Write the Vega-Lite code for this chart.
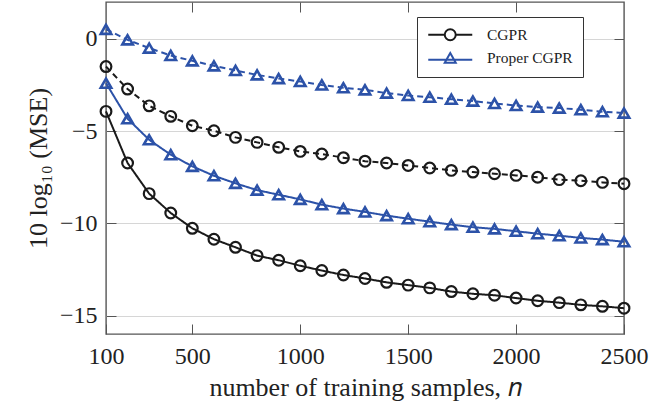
{
  "$schema": "https://vega.github.io/schema/vega-lite/v6.json",
  "width": 518,
  "height": 332,
  "autosize": {"type": "none"},
  "padding": {"left": 106, "top": 2, "right": 25, "bottom": 73},
  "background": "white",
  "config": {
    "view": {"stroke": "#555555", "strokeWidth": 1.4},
    "axis": {
      "labelFont": "Liberation Serif",
      "labelFontSize": 24,
      "labelColor": "#222222",
      "titleFont": "Liberation Serif",
      "titleFontSize": 26,
      "titleFontWeight": "normal",
      "titleColor": "#222222",
      "tickColor": "#555555",
      "tickWidth": 1,
      "tickSize": -10,
      "domain": false,
      "labelFlush": false
    },
    "legend": {
      "labelFont": "Liberation Serif",
      "labelFontSize": 15.5,
      "labelColor": "#222222"
    }
  },
  "data": {
    "values": [
      {"n": 100, "method": "CGPR", "style": "solid", "mse": -3.93},
      {"n": 200, "method": "CGPR", "style": "solid", "mse": -6.73},
      {"n": 300, "method": "CGPR", "style": "solid", "mse": -8.39},
      {"n": 400, "method": "CGPR", "style": "solid", "mse": -9.44},
      {"n": 500, "method": "CGPR", "style": "solid", "mse": -10.27},
      {"n": 600, "method": "CGPR", "style": "solid", "mse": -10.86},
      {"n": 700, "method": "CGPR", "style": "solid", "mse": -11.3},
      {"n": 800, "method": "CGPR", "style": "solid", "mse": -11.75},
      {"n": 900, "method": "CGPR", "style": "solid", "mse": -12.0},
      {"n": 1000, "method": "CGPR", "style": "solid", "mse": -12.3},
      {"n": 1100, "method": "CGPR", "style": "solid", "mse": -12.56},
      {"n": 1200, "method": "CGPR", "style": "solid", "mse": -12.8},
      {"n": 1300, "method": "CGPR", "style": "solid", "mse": -12.99},
      {"n": 1400, "method": "CGPR", "style": "solid", "mse": -13.2},
      {"n": 1500, "method": "CGPR", "style": "solid", "mse": -13.35},
      {"n": 1600, "method": "CGPR", "style": "solid", "mse": -13.5},
      {"n": 1700, "method": "CGPR", "style": "solid", "mse": -13.7},
      {"n": 1800, "method": "CGPR", "style": "solid", "mse": -13.82},
      {"n": 1900, "method": "CGPR", "style": "solid", "mse": -13.9},
      {"n": 2000, "method": "CGPR", "style": "solid", "mse": -14.05},
      {"n": 2100, "method": "CGPR", "style": "solid", "mse": -14.2},
      {"n": 2200, "method": "CGPR", "style": "solid", "mse": -14.3},
      {"n": 2300, "method": "CGPR", "style": "solid", "mse": -14.42},
      {"n": 2400, "method": "CGPR", "style": "solid", "mse": -14.5},
      {"n": 2500, "method": "CGPR", "style": "solid", "mse": -14.6},
      {"n": 100, "method": "CGPR", "style": "dashed", "mse": -1.5},
      {"n": 200, "method": "CGPR", "style": "dashed", "mse": -2.72},
      {"n": 300, "method": "CGPR", "style": "dashed", "mse": -3.63},
      {"n": 400, "method": "CGPR", "style": "dashed", "mse": -4.2},
      {"n": 500, "method": "CGPR", "style": "dashed", "mse": -4.71},
      {"n": 600, "method": "CGPR", "style": "dashed", "mse": -4.98},
      {"n": 700, "method": "CGPR", "style": "dashed", "mse": -5.34},
      {"n": 800, "method": "CGPR", "style": "dashed", "mse": -5.61},
      {"n": 900, "method": "CGPR", "style": "dashed", "mse": -5.88},
      {"n": 1000, "method": "CGPR", "style": "dashed", "mse": -6.1},
      {"n": 1100, "method": "CGPR", "style": "dashed", "mse": -6.24},
      {"n": 1200, "method": "CGPR", "style": "dashed", "mse": -6.44},
      {"n": 1300, "method": "CGPR", "style": "dashed", "mse": -6.63},
      {"n": 1400, "method": "CGPR", "style": "dashed", "mse": -6.73},
      {"n": 1500, "method": "CGPR", "style": "dashed", "mse": -6.86},
      {"n": 1600, "method": "CGPR", "style": "dashed", "mse": -7.0},
      {"n": 1700, "method": "CGPR", "style": "dashed", "mse": -7.13},
      {"n": 1800, "method": "CGPR", "style": "dashed", "mse": -7.22},
      {"n": 1900, "method": "CGPR", "style": "dashed", "mse": -7.31},
      {"n": 2000, "method": "CGPR", "style": "dashed", "mse": -7.4},
      {"n": 2100, "method": "CGPR", "style": "dashed", "mse": -7.5},
      {"n": 2200, "method": "CGPR", "style": "dashed", "mse": -7.63},
      {"n": 2300, "method": "CGPR", "style": "dashed", "mse": -7.69},
      {"n": 2400, "method": "CGPR", "style": "dashed", "mse": -7.78},
      {"n": 2500, "method": "CGPR", "style": "dashed", "mse": -7.85},
      {"n": 100, "method": "Proper CGPR", "style": "solid", "mse": -2.4},
      {"n": 200, "method": "Proper CGPR", "style": "solid", "mse": -4.33},
      {"n": 300, "method": "Proper CGPR", "style": "solid", "mse": -5.47},
      {"n": 400, "method": "Proper CGPR", "style": "solid", "mse": -6.28},
      {"n": 500, "method": "Proper CGPR", "style": "solid", "mse": -6.91},
      {"n": 600, "method": "Proper CGPR", "style": "solid", "mse": -7.42},
      {"n": 700, "method": "Proper CGPR", "style": "solid", "mse": -7.83},
      {"n": 800, "method": "Proper CGPR", "style": "solid", "mse": -8.2},
      {"n": 900, "method": "Proper CGPR", "style": "solid", "mse": -8.45},
      {"n": 1000, "method": "Proper CGPR", "style": "solid", "mse": -8.7},
      {"n": 1100, "method": "Proper CGPR", "style": "solid", "mse": -8.99},
      {"n": 1200, "method": "Proper CGPR", "style": "solid", "mse": -9.2},
      {"n": 1300, "method": "Proper CGPR", "style": "solid", "mse": -9.38},
      {"n": 1400, "method": "Proper CGPR", "style": "solid", "mse": -9.58},
      {"n": 1500, "method": "Proper CGPR", "style": "solid", "mse": -9.75},
      {"n": 1600, "method": "Proper CGPR", "style": "solid", "mse": -9.91},
      {"n": 1700, "method": "Proper CGPR", "style": "solid", "mse": -10.07},
      {"n": 1800, "method": "Proper CGPR", "style": "solid", "mse": -10.21},
      {"n": 1900, "method": "Proper CGPR", "style": "solid", "mse": -10.3},
      {"n": 2000, "method": "Proper CGPR", "style": "solid", "mse": -10.43},
      {"n": 2100, "method": "Proper CGPR", "style": "solid", "mse": -10.56},
      {"n": 2200, "method": "Proper CGPR", "style": "solid", "mse": -10.67},
      {"n": 2300, "method": "Proper CGPR", "style": "solid", "mse": -10.79},
      {"n": 2400, "method": "Proper CGPR", "style": "solid", "mse": -10.88},
      {"n": 2500, "method": "Proper CGPR", "style": "solid", "mse": -11.0},
      {"n": 100, "method": "Proper CGPR", "style": "dashed", "mse": 0.52},
      {"n": 200, "method": "Proper CGPR", "style": "dashed", "mse": -0.05},
      {"n": 300, "method": "Proper CGPR", "style": "dashed", "mse": -0.5},
      {"n": 400, "method": "Proper CGPR", "style": "dashed", "mse": -0.9},
      {"n": 500, "method": "Proper CGPR", "style": "dashed", "mse": -1.19},
      {"n": 600, "method": "Proper CGPR", "style": "dashed", "mse": -1.46},
      {"n": 700, "method": "Proper CGPR", "style": "dashed", "mse": -1.71},
      {"n": 800, "method": "Proper CGPR", "style": "dashed", "mse": -1.95},
      {"n": 900, "method": "Proper CGPR", "style": "dashed", "mse": -2.15},
      {"n": 1000, "method": "Proper CGPR", "style": "dashed", "mse": -2.31},
      {"n": 1100, "method": "Proper CGPR", "style": "dashed", "mse": -2.5},
      {"n": 1200, "method": "Proper CGPR", "style": "dashed", "mse": -2.65},
      {"n": 1300, "method": "Proper CGPR", "style": "dashed", "mse": -2.76},
      {"n": 1400, "method": "Proper CGPR", "style": "dashed", "mse": -2.94},
      {"n": 1500, "method": "Proper CGPR", "style": "dashed", "mse": -3.07},
      {"n": 1600, "method": "Proper CGPR", "style": "dashed", "mse": -3.16},
      {"n": 1700, "method": "Proper CGPR", "style": "dashed", "mse": -3.27},
      {"n": 1800, "method": "Proper CGPR", "style": "dashed", "mse": -3.37},
      {"n": 1900, "method": "Proper CGPR", "style": "dashed", "mse": -3.5},
      {"n": 2000, "method": "Proper CGPR", "style": "dashed", "mse": -3.61},
      {"n": 2100, "method": "Proper CGPR", "style": "dashed", "mse": -3.7},
      {"n": 2200, "method": "Proper CGPR", "style": "dashed", "mse": -3.75},
      {"n": 2300, "method": "Proper CGPR", "style": "dashed", "mse": -3.84},
      {"n": 2400, "method": "Proper CGPR", "style": "dashed", "mse": -3.95},
      {"n": 2500, "method": "Proper CGPR", "style": "dashed", "mse": -4.02}
    ]
  },
  "layer": [
    {
      "layer": [
        {
          "mark": {"type": "line", "strokeWidth": 2},
          "encoding": {
            "x": {"field": "n", "type": "quantitative", "scale": {"domain": [100, 2500], "nice": false, "zero": false},
                  "axis": {"orient": "bottom", "values": [100, 500, 1000, 1500, 2000, 2500], "format": "d", "grid": false, "labelPadding": 20, "title": "number of training samples, 𝑛", "titlePadding": 6}},
            "y": {"field": "mse", "type": "quantitative", "scale": {"domain": [-16, 2], "nice": false, "zero": false},
                  "axis": {"orient": "left", "values": [-15, -10, -5, 0], "grid": true, "gridColor": "#d6d6d6", "gridWidth": 1, "labelPadding": 19, "title": "10 log₁₀ (MSE)", "titlePadding": 8}},
            "color": {"field": "method", "type": "nominal", "scale": {"domain": ["CGPR", "Proper CGPR"], "range": ["#1a1a1a", "#2c52a8"]}},
            "strokeDash": {"field": "style", "type": "nominal", "scale": {"domain": ["solid", "dashed"], "range": [[1, 0], [6, 4]]}, "legend": null},
            "detail": {"field": "style"}
          }
        },
        {
          "transform": [{"filter": "datum.method === 'CGPR'"}],
          "mark": {"type": "point", "shape": "circle", "filled": false, "strokeWidth": 2.2, "size": 115, "opacity": 1},
          "encoding": {
            "x": {"field": "n", "type": "quantitative"},
            "y": {"field": "mse", "type": "quantitative"},
            "color": {"field": "method", "type": "nominal"}
          }
        },
        {
          "transform": [{"filter": "datum.method === 'Proper CGPR'"}],
          "mark": {"type": "point", "shape": "triangle-up", "filled": false, "strokeWidth": 2.6, "size": 110, "opacity": 1},
          "encoding": {
            "x": {"field": "n", "type": "quantitative"},
            "y": {"field": "mse", "type": "quantitative"},
            "color": {"field": "method", "type": "nominal"}
          }
        },
        {
          "transform": [{"filter": "datum.n < 0"}],
          "mark": {"type": "point", "filled": false, "strokeWidth": 2.2, "size": 121, "opacity": 1},
          "encoding": {
            "x": {"field": "n", "type": "quantitative"},
            "y": {"field": "mse", "type": "quantitative"},
            "color": {"field": "method", "type": "nominal",
                      "legend": {
                        "orient": "none", "legendX": 311, "legendY": 15,
                        "title": null, "padding": 10, "strokeColor": "#333333", "fillColor": "white",
                        "symbolSize": 121, "symbolStrokeWidth": 2, "symbolOffset": 15.5, "labelOffset": 29, "rowPadding": 4
                      }},
            "shape": {"field": "method", "type": "nominal",
                      "scale": {"domain": ["CGPR", "Proper CGPR"], "range": ["M-4,0H-1M1,0H4M-1,0A1,1 0 1,0 1,0A1,1 0 1,0 -1,0", "M-4,0.35H4M0,-0.85L1,0.9L-1,0.9Z"]},
                      "legend": {
                        "orient": "none", "legendX": 311, "legendY": 15,
                        "title": null, "padding": 10, "strokeColor": "#333333", "fillColor": "white",
                        "symbolSize": 121, "symbolStrokeWidth": 2, "symbolOffset": 15.5, "labelOffset": 29, "rowPadding": 4
                      }}
          }
        }
      ]
    },
    {
      "mark": {"type": "point", "opacity": 0},
      "encoding": {
        "x": {"field": "n", "type": "quantitative", "scale": {"domain": [100, 2500], "nice": false, "zero": false},
              "axis": {"orient": "top", "values": [500, 1000, 1500, 2000], "labels": false, "grid": false, "title": null}},
        "y": {"field": "mse", "type": "quantitative", "scale": {"domain": [-16, 2], "nice": false, "zero": false},
              "axis": {"orient": "right", "values": [-15, -10, -5, 0], "labels": false, "grid": false, "title": null}}
      }
    }
  ],
  "resolve": {"scale": {"x": "independent", "y": "independent"}}
}
